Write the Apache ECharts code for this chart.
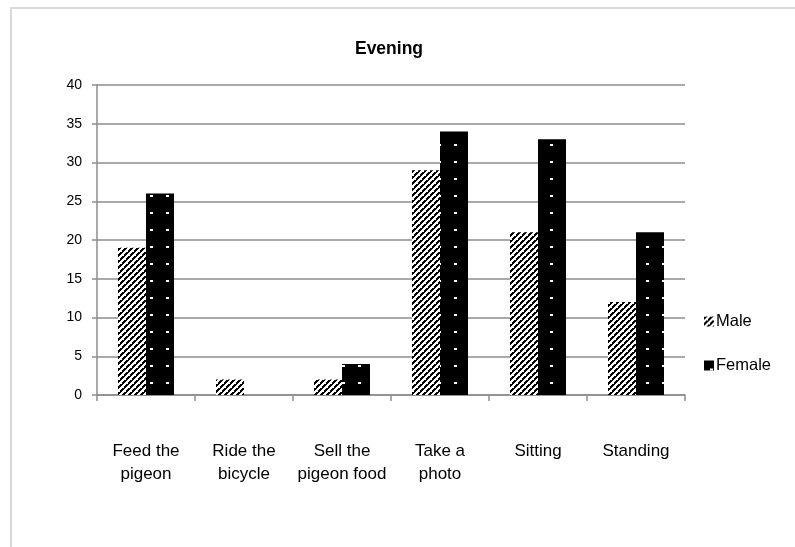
<!DOCTYPE html>
<html>
<head>
<meta charset="utf-8">
<script src="https://cdn.jsdelivr.net/npm/echarts@6/dist/echarts.min.js"></script>
<style>
  html, body { margin: 0; padding: 0; background: #fff; }
  #chart { width: 795px; height: 547px; }
</style>
</head>
<body>
<div id="chart"></div>
<script>
// Activities observed in the evening, counted by gender
const categories = ['Feed the\npigeon', 'Ride the\nbicycle', 'Sell the\npigeon food', 'Take a\nphoto', 'Sitting', 'Standing'];
const maleValues = [19, 2, 2, 29, 21, 12];
const femaleValues = [26, 0, 4, 34, 33, 21];
const yTicks = { min: 0, max: 40, step: 5 };

// Diagonal hatch fill (white ground, black upward stripes with small breaks)
function hatchPattern() {
  const n = 12;
  const c = document.createElement('canvas');
  c.width = n; c.height = n;
  const g = c.getContext('2d');
  g.fillStyle = '#fff';
  g.fillRect(0, 0, n, n);
  g.fillStyle = '#000';
  for (let y = 0; y < n; y++) {
    for (let x = 0; x < n; x++) {
      const d = (x + y) % 6;
      if (d < 3 && !(d === 0 && y % 4 === 3)) g.fillRect(x, y, 1, 1);
    }
  }
  return c;
}

// Solid black fill with a sparse grid of white dots
function dotPattern() {
  const c = document.createElement('canvas');
  c.width = 16; c.height = 17;
  const g = c.getContext('2d');
  g.fillStyle = '#000';
  g.fillRect(0, 0, 16, 17);
  g.fillStyle = '#fff';
  g.fillRect(6, 8, 3, 2);
  return c;
}

const chart = echarts.init(document.getElementById('chart'), null, { renderer: 'canvas' });
const font = '"Liberation Sans", Arial, sans-serif';
const axisGray = '#8c8c8c';

chart.setOption({
  animation: false,
  backgroundColor: '#fff',
  title: {
    text: 'Evening',
    left: 384,
    textAlign: 'center',
    top: 35,
    textStyle: { fontFamily: font, fontSize: 17.5, fontWeight: 'bold', color: '#000' }
  },
  graphic: [{
    type: 'rect',
    shape: { x: 11, y: 8, width: 900, height: 700 },
    style: { fill: 'none', stroke: '#d9d9d9', lineWidth: 2 },
    silent: true
  }],
  legend: {
    orient: 'vertical',
    left: 699,
    top: 308,
    itemWidth: 10,
    itemHeight: 10,
    itemGap: 27,
    icon: 'rect',
    textStyle: { fontFamily: font, fontSize: 16.5, color: '#000', padding: [0, 0, 0, -3] },
    data: ['Male', 'Female']
  },
  grid: { left: 97, right: 110, top: 85, bottom: 152, containLabel: false },
  xAxis: {
    type: 'category',
    data: categories,
    axisLine: { show: true, lineStyle: { color: axisGray, width: 1.5 } },
    axisTick: { show: true, alignWithLabel: false, length: 6, lineStyle: { color: axisGray, width: 1.5 } },
    axisLabel: { fontFamily: font, fontSize: 17, color: '#000', margin: 45, lineHeight: 23, interval: 0 }
  },
  yAxis: {
    type: 'value',
    min: yTicks.min,
    max: yTicks.max,
    interval: yTicks.step,
    axisLine: { show: true, lineStyle: { color: axisGray, width: 1.5 } },
    axisTick: { show: true, length: 5, lineStyle: { color: axisGray, width: 1.5 } },
    axisLabel: { fontFamily: font, fontSize: 14, color: '#000', margin: 15 },
    splitLine: { show: true, lineStyle: { color: axisGray, width: 1.5 } }
  },
  series: [
    {
      name: 'Male',
      type: 'bar',
      data: maleValues,
      barWidth: 28,
      barGap: '0%',
      itemStyle: { color: { image: hatchPattern(), repeat: 'repeat' } }
    },
    {
      name: 'Female',
      type: 'bar',
      data: femaleValues,
      barWidth: 28,
      barGap: '0%',
      itemStyle: { color: { image: dotPattern(), repeat: 'repeat' } }
    }
  ]
});
</script>
</body>
</html>
